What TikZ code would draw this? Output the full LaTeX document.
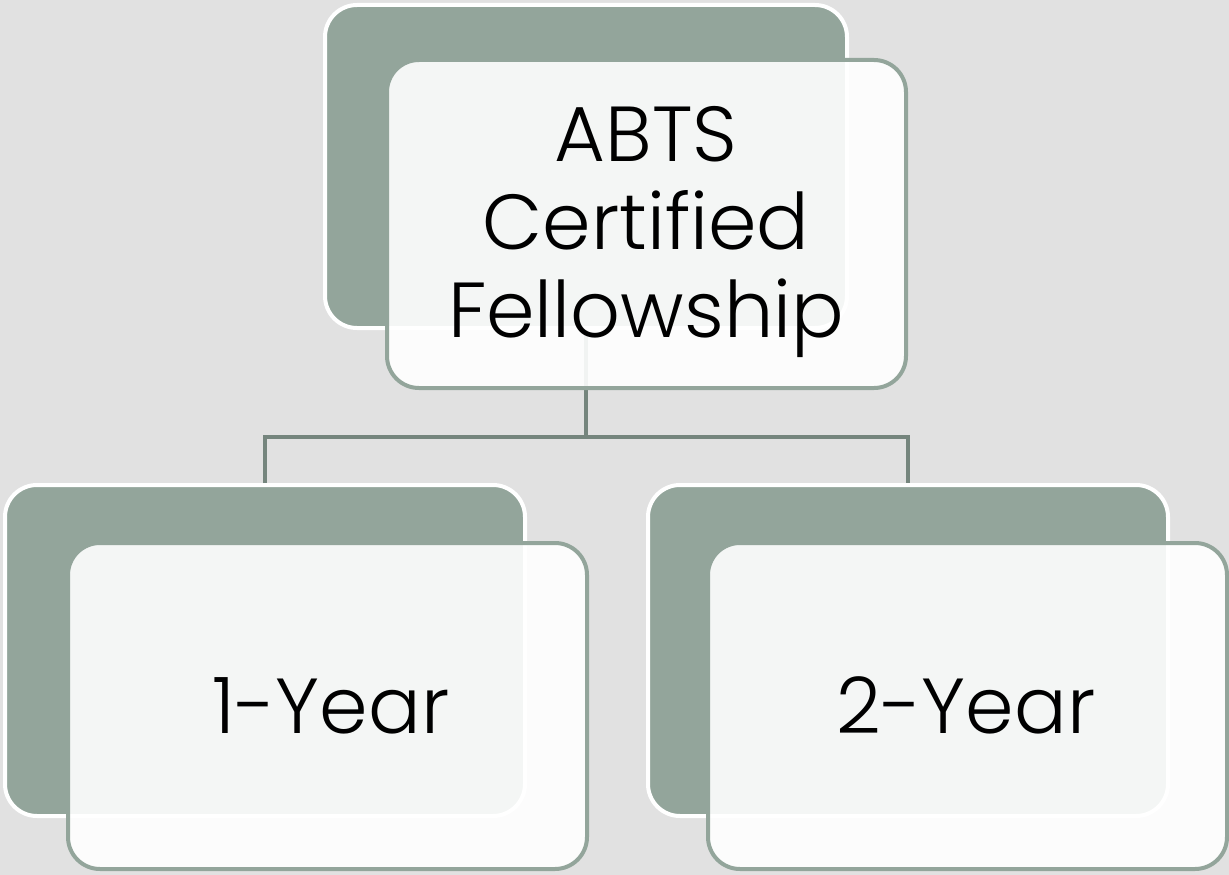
\documentclass[tikz,border=0pt]{standalone}
\usepackage{fontspec}
\setmainfont{Poppins Light}
\definecolor{bg}{HTML}{E1E1E1}
\definecolor{sage}{HTML}{93A59B}
\definecolor{conn}{HTML}{75857D}
\begin{document}
\begin{tikzpicture}[x=1pt,y=-1pt,
  backbox/.style={draw=white,line width=4pt,fill=sage,rounded corners=32pt,
    rectangle,inner sep=0pt,minimum width=520pt,minimum height=330pt},
  frontbox/.style={draw=sage,line width=4pt,fill=white,fill opacity=0.9,
    rounded corners=32pt,rectangle,inner sep=0pt,minimum width=519pt,minimum height=327pt},
  lbl/.style={font=\fontsize{78}{88}\selectfont,align=center,anchor=base,text=black},
  link/.style={draw=conn,line width=4.5pt}]
\fill[bg] (0,0) rectangle (1229,875);
\useasboundingbox (0,0) rectangle (1229,875);
% back boxes
\node[backbox,minimum width=522pt,minimum height=323pt] (topback) at (586,166.5) {};
\node[backbox,minimum height=331pt] (leftback) at (265,650.5) {};
\node[backbox,minimum height=331pt] (rightback) at (908,650.5) {};
% connectors
\coordinate (j) at (586,437);
\draw[link] (topback.south) -- (j);
\draw[link] (leftback.north) |- (j) -| (rightback.north);
% front boxes
\node[frontbox,minimum height=328pt] (topfront) at (646.5,224) {};
\node[frontbox,minimum height=326pt] (leftfront) at (327.5,706) {};
\node[frontbox,minimum height=326pt] (rightfront) at (967.5,706) {};
% labels
\node[lbl] (toptext) at (646,337) {ABTS\\Certified\\Fellowship};
\node[lbl] (lefttext) at (331,733) {1-Year};
\node[lbl] (righttext) at (966,733) {2-Year};
\end{tikzpicture}
\end{document}
